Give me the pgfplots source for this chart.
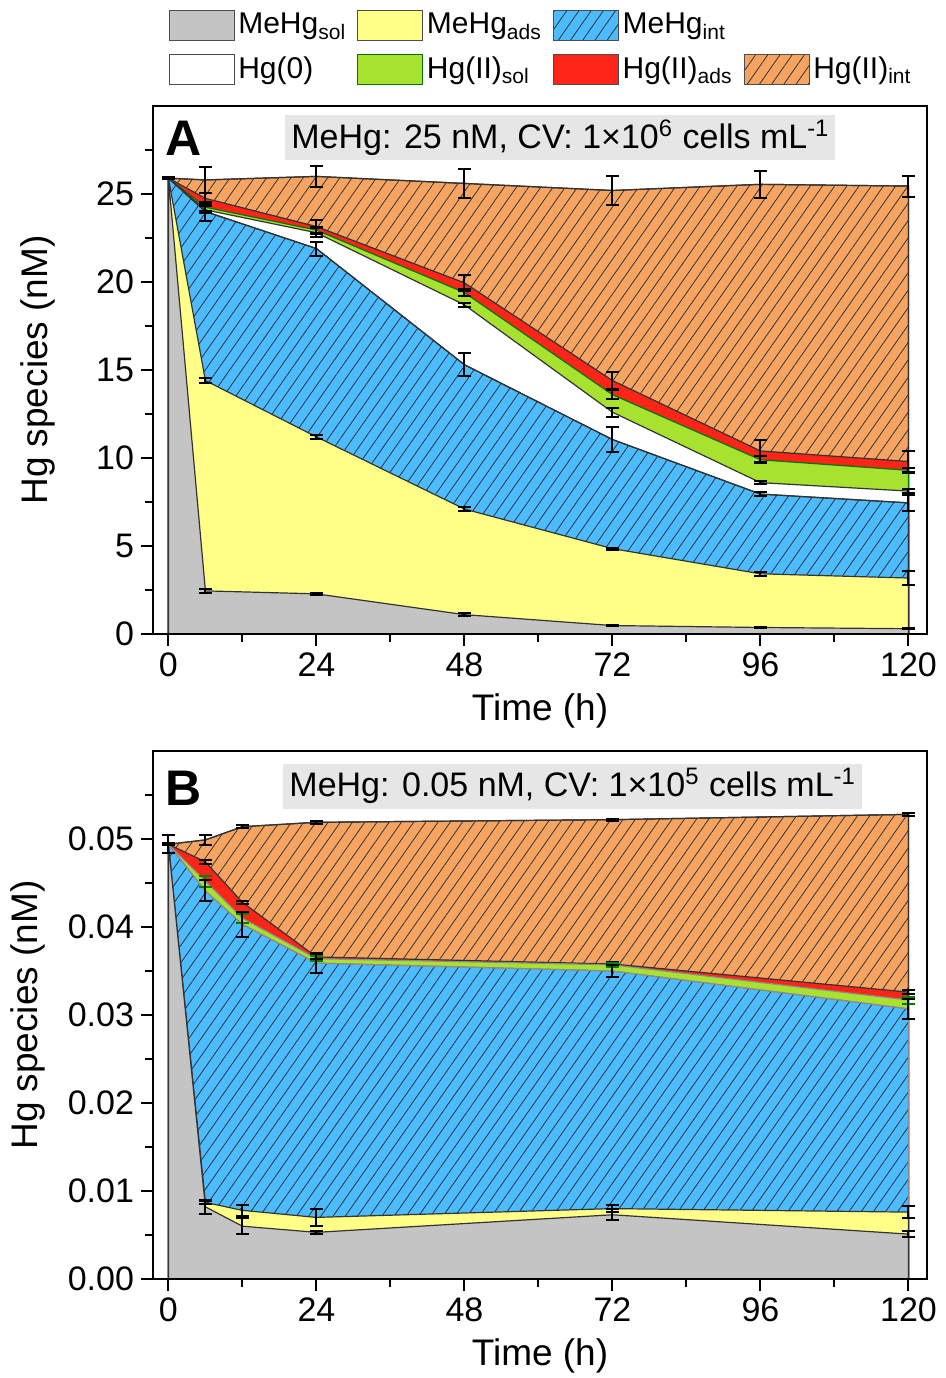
\documentclass[border=0pt]{standalone}
\usepackage{pgfplots}
\usepackage{pgfplotstable}
\pgfplotsset{compat=1.18}
\usetikzlibrary{patterns.meta}
\usepackage{fontspec}
\setmainfont{Liberation Sans}

\definecolor{cSol}{HTML}{C4C4C4}
\definecolor{cAds}{HTML}{FFFF88}
\definecolor{cInt}{HTML}{4DBBFF}
\definecolor{cIIsol}{HTML}{A6E22E}
\definecolor{cIIads}{HTML}{FF2418}
\definecolor{cIIint}{HTML}{F5A462}
\definecolor{cNote}{HTML}{E6E6E6}

% cumulative tops of the stacked species, panel A (25 nM)
\pgfplotstableread{
t   sol   ads    int    hg0    iisol  iiads  iiint  esol  eads  eint  ehg0  eiisol eiiads eiiint
0   25.9  25.9   25.9   25.9   25.9   25.9   25.9   0.05  0.05  0.05  0.05  0.05   0.05   0.05
6   2.45  14.40  24.00  24.10  24.25  24.75  25.80  0.10  0.12  0.55  0.20  0.20   0.30   0.75
24  2.28  11.20  21.90  22.80  22.95  23.15  26.00  0.07  0.12  0.40  0.25  0.15   0.40   0.60
48  1.10  7.10   15.30  18.70  19.40  19.95  25.60  0.08  0.10  0.65  0.12  0.20   0.45   0.80
72  0.48  4.85   11.05  12.60  13.60  14.40  25.20  0.05  0.05  0.70  0.25  0.25   0.50   0.85
96  0.37  3.42   7.95   8.60   9.90   10.40  25.55  0.05  0.10  0.10  0.10  0.20   0.65   0.75
120 0.30  3.18   7.45   8.12   9.30   9.80   25.45  0.04  0.38  0.45  0.12  0.15   0.60   0.60
}\dataA

% cumulative tops, panel B (0.05 nM)
\pgfplotstableread{
t   sol     ads     int     iisol   iiads   iiint   esol    eads    eint    eiisol  eiiads  eiiint
0   0.0494  0.0494  0.0494  0.0494  0.0494  0.0494  0.0001  0.0001  0.0001  0.0001  0.0001  0.0010
6   0.0082  0.0087  0.0441  0.0452  0.0474  0.0499  0.0008  0.0002  0.0012  0.0006  0.0002  0.0006
12  0.0060  0.0078  0.0403  0.0410  0.0428  0.0514  0.0009  0.0006  0.0014  0.0005  0.0002  0.0002
24  0.0053  0.0070  0.0359  0.0364  0.0366  0.0519  0.0002  0.0010  0.0011  0.0003  0.0002  0.0002
72  0.0073  0.0080  0.0350  0.0357  0.0358  0.0522  0.0006  0.0004  0.0007  0.0002  0.0002  0.0001
120 0.0051  0.0076  0.0307  0.0317  0.0326  0.0528  0.0003  0.0007  0.0011  0.0004  0.0002  0.0002
}\dataB

\newcommand{\fs}[1]{\fontsize{#1}{#1}\selectfont}

\tikzset{
  hatch/.style={postaction={pattern={Lines[angle=55,distance=5pt,line width=0.35pt]},pattern color=black!85}},
  areaedge/.style={draw=black!80, line width=0.6pt},
}

\pgfplotsset{
  panel/.style={
    width=387pt, height=264pt, scale only axis,
    xmin=-2.5, xmax=123,
    xtick={0,24,48,72,96,120}, minor xtick={12,36,60,84,108},
    tick pos=left, tick align=outside,
    major tick length=6pt, minor tick length=4pt,
    every tick/.style={black, line width=1pt},
    axis line style={line width=1.2pt},
    ticklabel style={font=\fs{17}},
    /pgf/number format/assume math mode=true,
    xlabel={Time (h)}, ylabel={Hg species (nM)},
    every axis x label/.style={at={(axis description cs:0.5,-0.145)}, anchor=center, font=\fs{18.5}},
    axis on top,
    legend image code/.code={\draw[##1] (0pt,-7.5pt) rectangle (32.5pt,7.5pt);},
  },
  ebar/.style={draw=none, mark=none, forget plot,
    error bars/.cd, y dir=both, y explicit,
    error bar style={draw=#1, solid, line width=1pt},
    error mark options={draw=#1, rotate=90, mark size=3.2pt, line width=1pt}},
  ebar/.default=black,
}

\begin{document}
\begin{tikzpicture}
\useasboundingbox (-76.5pt,-49.5pt) rectangle (396.5pt,639.5pt);

% ---------- panel A ----------
\begin{axis}[panel, at={(0pt,322.5pt)}, anchor=south west,
    ymin=0, ymax=30, ytick={0,5,10,15,20,25}, minor ytick={2.5,7.5,12.5,17.5,22.5,27.5},
    every axis y label/.style={at={(axis description cs:-0.1486,0.5)}, rotate=90, anchor=center, font=\fs{18.5}},
    legend columns=4,
    legend style={draw=none, fill=none, at={(0.5,1)}, anchor=south, xshift=1pt, yshift=8pt,
      font=\fs{15}, row sep=6pt, legend cell align=left,
      /tikz/every even column/.append style={column sep=3.5pt}},
  ]
  \addlegendimage{fill=cSol, draw=black!70}
  \addlegendentry{MeHg\textsubscript{sol}}
  \addlegendimage{fill=cAds, draw=black!70}
  \addlegendentry{MeHg\textsubscript{ads}}
  \addlegendimage{fill=cInt, draw=black!70, hatch}
  \addlegendentry{MeHg\textsubscript{int}}
  \addlegendimage{empty legend}
  \addlegendentry{}
  \addlegendimage{fill=white, draw=black!70}
  \addlegendentry{Hg(0)}
  \addlegendimage{fill=cIIsol, draw=green!45!black}
  \addlegendentry{Hg(II)\textsubscript{sol}}
  \addlegendimage{fill=cIIads, draw=black!70}
  \addlegendentry{Hg(II)\textsubscript{ads}}
  \addlegendimage{fill=cIIint, draw=black!70, hatch}
  \addlegendentry{Hg(II)\textsubscript{int}}

  \addplot[areaedge, fill=cIIint, hatch, forget plot] table[x=t, y=iiint] {\dataA} \closedcycle;
  \addplot[areaedge, fill=cIIads, forget plot] table[x=t, y=iiads] {\dataA} \closedcycle;
  \addplot[areaedge, draw=green!45!black, fill=cIIsol, forget plot] table[x=t, y=iisol] {\dataA} \closedcycle;
  \addplot[areaedge, fill=white, forget plot] table[x=t, y=hg0] {\dataA} \closedcycle;
  \addplot[areaedge, fill=cInt, hatch, forget plot] table[x=t, y=int] {\dataA} \closedcycle;
  \addplot[areaedge, fill=cAds, forget plot] table[x=t, y=ads] {\dataA} \closedcycle;
  \addplot[areaedge, fill=cSol, forget plot] table[x=t, y=sol] {\dataA} \closedcycle;

  \addplot[ebar] table[x=t, y=iiint, y error=eiiint] {\dataA};
  \addplot[ebar] table[x=t, y=iiads, y error=eiiads] {\dataA};
  \addplot[ebar] table[x=t, y=iisol, y error=eiisol] {\dataA};
  \addplot[ebar] table[x=t, y=hg0, y error=ehg0] {\dataA};
  \addplot[ebar] table[x=t, y=int, y error=eint] {\dataA};
  \addplot[ebar] table[x=t, y=ads, y error=eads] {\dataA};
  \addplot[ebar] table[x=t, y=sol, y error=esol] {\dataA};

  \node[anchor=north west, font=\bfseries\fs{25}, inner sep=0pt] at (rel axis cs:0.0155,0.972) {A};
  \node[anchor=north west, fill=cNote, inner xsep=3pt, inner ysep=0pt, minimum height=22.5pt, font=\fs{17}]
    at (rel axis cs:0.1705,0.983) {MeHg: 25 nM, CV: 1×10\textsuperscript{6} cells mL\textsuperscript{-1}};
\end{axis}

% ---------- panel B ----------
\begin{axis}[panel, at={(0pt,0pt)}, anchor=south west,
    ymin=0, ymax=0.06, ytick={0,0.01,0.02,0.03,0.04,0.05},
    minor ytick={0.005,0.015,0.025,0.035,0.045,0.055},
    scaled y ticks=false,
    yticklabel style={/pgf/number format/.cd, fixed, fixed zerofill, precision=2},
    every axis y label/.style={at={(axis description cs:-0.1615,0.5)}, rotate=90, anchor=center, font=\fs{18.5}},
  ]
  \addplot[areaedge, fill=cIIint, hatch] table[x=t, y=iiint] {\dataB} \closedcycle;
  \addplot[areaedge, fill=cIIads] table[x=t, y=iiads] {\dataB} \closedcycle;
  \addplot[areaedge, draw=black!45, fill=cIIsol] table[x=t, y=iisol] {\dataB} \closedcycle;
  \addplot[areaedge, draw=black!45, fill=cInt, hatch] table[x=t, y=int] {\dataB} \closedcycle;
  \addplot[areaedge, fill=cAds] table[x=t, y=ads] {\dataB} \closedcycle;
  \addplot[areaedge, fill=cSol] table[x=t, y=sol] {\dataB} \closedcycle;

  \addplot[ebar] table[x=t, y=iiint, y error=eiiint] {\dataB};
  \addplot[ebar] table[x=t, y=iiads, y error=eiiads] {\dataB};
  \addplot[ebar=green!50!black] table[x=t, y=iisol, y error=eiisol] {\dataB};
  \addplot[ebar] table[x=t, y=int, y error=eint] {\dataB};
  \addplot[ebar] table[x=t, y=ads, y error=eads] {\dataB};
  \addplot[ebar] table[x=t, y=sol, y error=esol] {\dataB};

  \node[anchor=north west, font=\bfseries\fs{25}, inner sep=0pt] at (rel axis cs:0.0155,0.962) {B};
  \node[anchor=north west, fill=cNote, inner xsep=3pt, inner ysep=0pt, minimum height=22.5pt, font=\fs{17}]
    at (rel axis cs:0.168,0.977) {MeHg: 0.05 nM, CV: 1×10\textsuperscript{5} cells mL\textsuperscript{-1}};
\end{axis}
\end{tikzpicture}
\end{document}
